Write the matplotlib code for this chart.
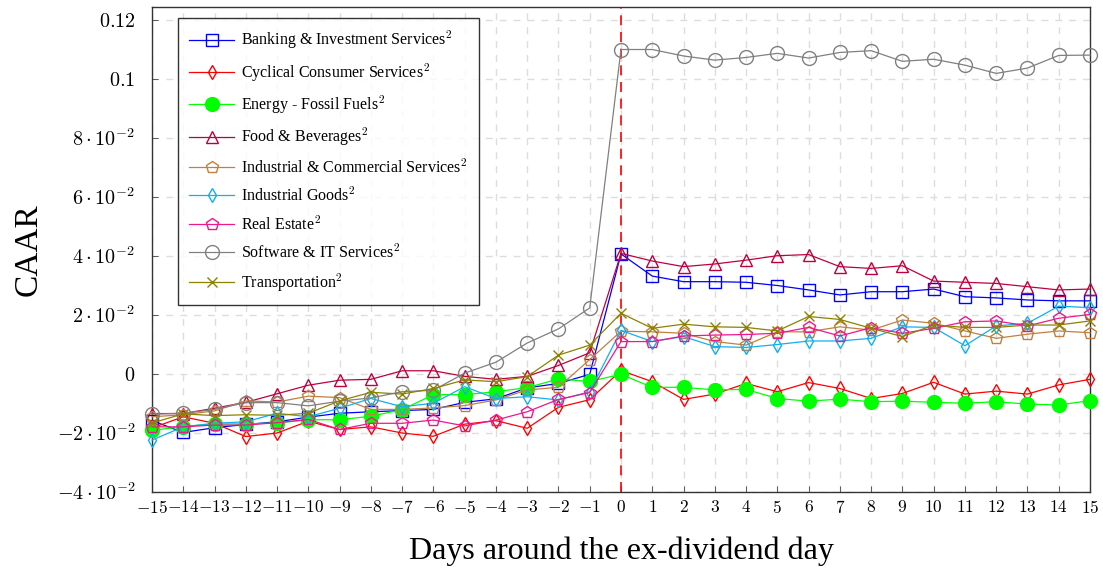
import numpy as np
import matplotlib
matplotlib.use('Agg')
import matplotlib.pyplot as plt

plt.rcParams['mathtext.fontset'] = 'cm'
plt.rcParams['font.family'] = ['Liberation Serif', 'DejaVu Serif']

days = list(range(-15, 16))

banking = [-0.0158, -0.0198, -0.0182, -0.0171, -0.0162, -0.0146, -0.0133, -0.0128, -0.0124, -0.0120,
           -0.0096, -0.0084, -0.0047, -0.0032, -0.0001, 0.0407, 0.0332, 0.0313, 0.0313, 0.0311,
           0.0300, 0.0285, 0.0268, 0.0279, 0.0279, 0.0288, 0.0262, 0.0258, 0.0251, 0.0248, 0.0248]
cyclical = [-0.0183, -0.0145, -0.0167, -0.0212, -0.0200, -0.0160, -0.0188, -0.0179, -0.0200, -0.0211,
            -0.0170, -0.0158, -0.0184, -0.0113, -0.0087, 0.0012, -0.0026, -0.0086, -0.0068, -0.0032,
            -0.0060, -0.0029, -0.0049, -0.0083, -0.0066, -0.0028, -0.0068, -0.0058, -0.0068, -0.0037, -0.0018]
energy = [-0.0191, -0.0178, -0.0169, -0.0169, -0.0166, -0.0155, -0.0155, -0.0143, -0.0121, -0.0070,
          -0.0070, -0.0060, -0.0046, -0.0017, -0.0025, -0.0001, -0.0045, -0.0045, -0.0054, -0.0052,
          -0.0083, -0.0092, -0.0085, -0.0094, -0.0092, -0.0096, -0.0099, -0.0094, -0.0102, -0.0105, -0.0090]
food = [-0.0134, -0.0134, -0.0116, -0.0096, -0.0067, -0.0038, -0.0021, -0.0018, 0.0011, 0.0011,
        -0.0008, -0.0018, -0.0008, 0.0029, 0.0072, 0.0409, 0.0383, 0.0364, 0.0373, 0.0386,
        0.0401, 0.0405, 0.0364, 0.0358, 0.0367, 0.0315, 0.0311, 0.0307, 0.0296, 0.0285, 0.0288]
ind_comm = [-0.0145, -0.0138, -0.0125, -0.0091, -0.0095, -0.0075, -0.0080, -0.0120, -0.0120, -0.0115,
            -0.0107, -0.0088, -0.0054, -0.0045, 0.0049, 0.0145, 0.0143, 0.0138, 0.0110, 0.0098,
            0.0143, 0.0143, 0.0160, 0.0149, 0.0183, 0.0172, 0.0146, 0.0121, 0.0135, 0.0146, 0.0140]
ind_goods = [-0.0224, -0.0179, -0.0167, -0.0162, -0.0133, -0.0145, -0.0116, -0.0083, -0.0111, -0.0099,
             -0.0043, -0.0083, -0.0077, -0.0088, -0.0060, 0.0148, 0.0110, 0.0127, 0.0093, 0.0090,
             0.0100, 0.0112, 0.0112, 0.0121, 0.0160, 0.0158, 0.0096, 0.0163, 0.0172, 0.0230, 0.0225]
real_estate = [-0.0179, -0.0179, -0.0173, -0.0173, -0.0165, -0.0154, -0.0188, -0.0167, -0.0167, -0.0156,
               -0.0176, -0.0156, -0.0128, -0.0086, -0.0063, 0.0110, 0.0110, 0.0129, 0.0132, 0.0134,
               0.0138, 0.0158, 0.0129, 0.0157, 0.0138, 0.0155, 0.0177, 0.0180, 0.0163, 0.0189, 0.0202]
software = [-0.0136, -0.0133, -0.0120, -0.0097, -0.0097, -0.0108, -0.0092, -0.0081, -0.0060, -0.0055,
            0.0003, 0.0040, 0.0105, 0.0153, 0.0224, 0.1100, 0.1100, 0.1078, 0.1064, 0.1073,
            0.1087, 0.1071, 0.1090, 0.1096, 0.1060, 0.1067, 0.1047, 0.1019, 0.1037, 0.1080, 0.1081]
transport = [-0.0166, -0.0135, -0.0141, -0.0138, -0.0140, -0.0133, -0.0091, -0.0062, -0.0068, -0.0049,
             -0.0020, -0.0026, -0.0009, 0.0064, 0.0098, 0.0206, 0.0155, 0.0169, 0.0160, 0.0158,
             0.0146, 0.0195, 0.0185, 0.0155, 0.0127, 0.0166, 0.0158, 0.0158, 0.0166, 0.0166, 0.0180]

labels = ['Banking & Investment Services', 'Cyclical Consumer Services', 'Energy - Fossil Fuels',
          'Food & Beverages', 'Industrial & Commercial Services', 'Industrial Goods',
          'Real Estate', 'Software & IT Services', 'Transportation']
series = [banking, cyclical, energy, food, ind_comm, ind_goods, real_estate, software, transport]
colors = ['#0000ff', '#ff0000', '#00ff00', '#bf0040', '#c08040', '#10b0f0', '#f0168c', '#808080', '#8c8200']
markers = ['s', 'd', 'o', '^', 'p', 'd', 'p', 'o', 'x']
msizes = [9, 7, 10, 8, 9, 7, 9, 10, 7]

fig = plt.figure(figsize=(11.03, 5.70), dpi=100)
ax = fig.add_axes([0.1378, 0.1368, 0.8504, 0.8514])

for vals, lab, c, m, ms in zip(series, labels, colors, markers, msizes):
    filled = (m == 'o' and c == '#00ff00') or m == 'x'
    ax.plot(days, vals, color=c, lw=0.9, marker=m, markersize=ms,
            markerfacecolor=c if filled else 'none', markeredgecolor=c, markeredgewidth=1.0,
            label=lab + r'$^{2}$', clip_on=False, zorder=3)

ax.axvline(0, color='red', ls=(0, (6, 4)), lw=1.2, zorder=2)

ax.set_xlim(-15, 15)
ax.set_ylim(-0.04, 0.1245)
ax.set_xticks(days)
ax.set_xticklabels([r'$%d$' % d if d >= 0 else r'$-%d$' % abs(d) for d in days], fontsize=12.5)
yt = [-0.04, -0.02, 0, 0.02, 0.04, 0.06, 0.08, 0.1, 0.12]
ylabs = [r'$-4\cdot10^{-2}$', r'$-2\cdot10^{-2}$', r'$0$', r'$2\cdot10^{-2}$', r'$4\cdot10^{-2}$',
         r'$6\cdot10^{-2}$', r'$8\cdot10^{-2}$', r'$0.1$', r'$0.12$']
ax.set_yticks(yt)
ax.set_yticklabels(ylabs, fontsize=14.5)
ax.tick_params(direction='in', length=4, width=0.6, color='#444444')
ax.tick_params(axis='y', pad=12)
ax.tick_params(axis='x', pad=6)
ax.grid(True, color='#dddddd', ls=(0, (5, 5)), lw=1.0, zorder=0)
for s in ax.spines.values():
    s.set_linewidth(1.0)
    s.set_color('#333333')

ax.set_xlabel('Days around the ex-dividend day', fontsize=23, labelpad=14)
ax.set_ylabel('CAAR', fontsize=24)
ax.yaxis.set_label_coords(-0.115, 0.5)

leg = ax.legend(loc='upper left', bbox_to_anchor=(0.0277, 0.977), borderaxespad=0,
                fontsize=11.5, frameon=True, fancybox=False, edgecolor='black',
                handlelength=2.8, labelspacing=0.62, borderpad=0.7, handletextpad=0.45)
leg.get_frame().set_linewidth(1.0)
leg.set_zorder(5)

fig.savefig('out.png', dpi=100)
